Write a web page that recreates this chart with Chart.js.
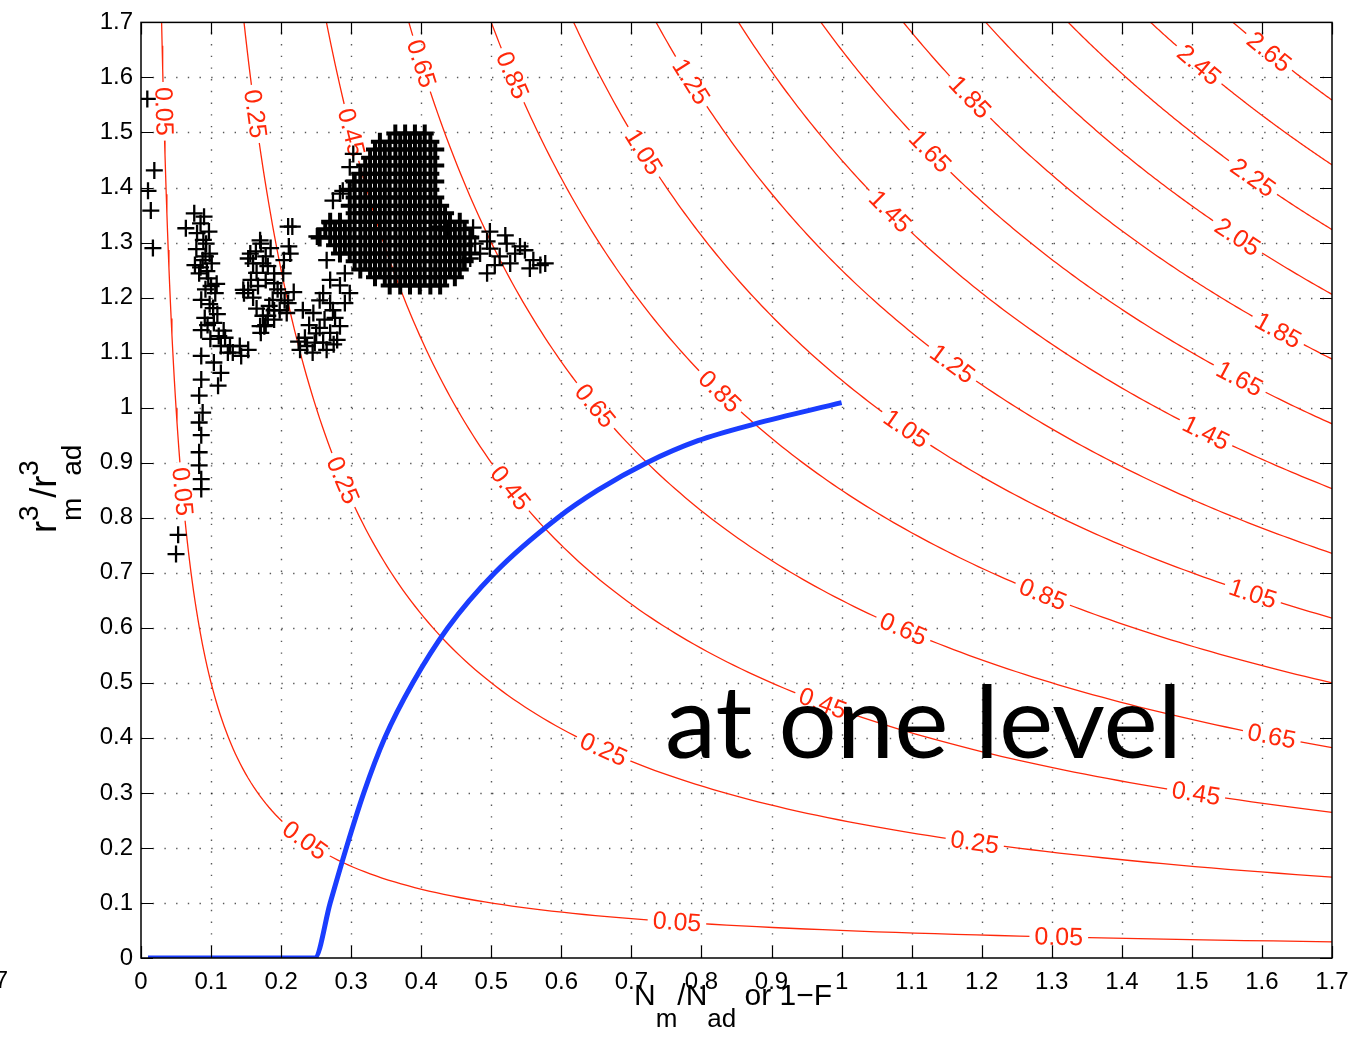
<!DOCTYPE html>
<html>
<head>
<meta charset="utf-8">
<script src="https://cdn.jsdelivr.net/npm/chart.js@4.4.0/dist/chart.umd.min.js"></script>
<style>
  html, body { margin: 0; padding: 0; background: #fff; }
</style>
</head>
<body>
<canvas id="myChart" width="1359" height="1038"></canvas>
<script>
// contour levels of the field z = x*y
const contourLevels = [0.05, 0.25, 0.45, 0.65, 0.85, 1.05, 1.25, 1.45, 1.65, 1.85, 2.05, 2.25, 2.45, 2.65];

// inline contour labels: [level, x position]
const labelSpots = [
    [0.05, 0.0325], [0.05, 0.059], [0.05, 0.234], [0.05, 0.765], [0.05, 1.31],
    [0.25, 0.163], [0.25, 0.288], [0.25, 0.66], [0.25, 1.19],
    [0.45, 0.30], [0.45, 0.527], [0.45, 0.973], [0.45, 1.506],
    [0.65, 0.40], [0.65, 0.648], [0.65, 1.088], [0.65, 1.614],
    [0.85, 0.53], [0.85, 0.826], [0.85, 1.287],
    [1.05, 0.717], [1.05, 1.092], [1.05, 1.587],
    [1.25, 0.785], [1.25, 1.158],
    [1.45, 1.069], [1.45, 1.52],
    [1.65, 1.126], [1.65, 1.568],
    [1.85, 1.183], [1.85, 1.623],
    [2.05, 1.565], [2.25, 1.587], [2.45, 1.51], [2.65, 1.61]
];

const axisTicks = [0, 0.1, 0.2, 0.3, 0.4, 0.5, 0.6, 0.7, 0.8, 0.9, 1, 1.1, 1.2, 1.3, 1.4, 1.5, 1.6, 1.7];

// blue curve
const blueX = [0.01, 0.248, 0.270, 0.293, 0.318, 0.348, 0.388, 0.438, 0.505, 0.595, 0.652, 0.722, 0.795, 0.875, 1.0];
const blueY = [0, 0, 0.1, 0.2, 0.3, 0.4, 0.5, 0.6, 0.7, 0.8, 0.85, 0.9, 0.94, 0.97, 1.009];

// "+" observations outside the dense core
const crossPoints = [
    [0.009,1.561],[0.019,1.431],[0.010,1.394],[0.014,1.358],[0.017,1.290],
    [0.076,1.353],[0.090,1.347],[0.064,1.326],[0.093,1.298],[0.080,1.317],[0.088,1.268],[0.098,1.280],
    [0.077,1.259],[0.094,1.248],[0.083,1.244],[0.100,1.221],[0.106,1.208],[0.086,1.196],[0.103,1.181],
    [0.091,1.163],[0.104,1.154],[0.086,1.141],[0.111,1.130],[0.120,1.127],[0.114,1.112],[0.124,1.100],
    [0.086,1.094],[0.104,1.082],[0.143,1.094],[0.153,1.105],[0.141,1.112],[0.131,1.100],[0.114,1.063],
    [0.110,1.040],[0.086,1.051],[0.083,1.022],[0.088,0.991],[0.083,0.973],[0.086,0.950],[0.083,0.919],
    [0.083,0.895],[0.086,0.870],[0.086,0.852],[0.053,0.769],[0.050,0.734],
    [0.085,1.335],[0.097,1.320],[0.089,1.305],[0.079,1.288],[0.092,1.275],[0.101,1.262],[0.085,1.255],
    [0.096,1.235],[0.108,1.225],[0.092,1.215],[0.098,1.188],[0.109,1.170],[0.095,1.150],[0.118,1.140],
    [0.127,1.112],[0.099,1.125],
    [0.171,1.298],[0.164,1.284],[0.153,1.271],[0.181,1.257],[0.190,1.244],[0.157,1.232],[0.153,1.214],
    [0.147,1.208],[0.167,1.221],[0.190,1.226],[0.200,1.208],[0.210,1.190],[0.181,1.167],[0.176,1.148],
    [0.171,1.136],[0.190,1.177],[0.170,1.304],[0.156,1.280],[0.174,1.262],[0.146,1.214],[0.174,1.167],
    [0.170,1.148],[0.188,1.196],[0.203,1.244],[0.213,1.280],[0.216,1.329],[0.198,1.177],[0.208,1.172],
    [0.160,1.262],[0.178,1.275],[0.185,1.290],[0.165,1.245],[0.178,1.232],[0.195,1.215],[0.160,1.200],
    [0.183,1.185],[0.165,1.180],[0.178,1.150],[0.190,1.160],[0.205,1.195],[0.218,1.210],
    [0.231,1.177],[0.237,1.112],[0.227,1.105],[0.260,1.118],[0.270,1.136],[0.274,1.177],[0.270,1.190],
    [0.240,1.150],[0.250,1.135],[0.262,1.160],[0.245,1.100],[0.265,1.105],[0.275,1.115],[0.225,1.120],
    [0.260,1.208],[0.270,1.232],[0.265,1.268],[0.251,1.311],[0.270,1.335],[0.274,1.376],[0.288,1.394],
    [0.303,1.461],[0.298,1.437],[0.303,1.412],[0.284,1.389],[0.255,1.195],[0.246,1.172],[0.284,1.148],
    [0.280,1.123],[0.210,1.329],[0.211,1.293],[0.204,1.268],
    [0.291,1.244],[0.284,1.222],[0.298,1.208],[0.291,1.190],[0.277,1.163],[0.255,1.145],[0.248,1.118],[0.234,1.127],
    [0.474,1.327],[0.494,1.302],[0.484,1.280],[0.522,1.298],[0.541,1.293],[0.560,1.268],[0.577,1.262],
    [0.494,1.244],[0.512,1.275],[0.460,1.268],[0.437,1.322],[0.427,1.329],[0.498,1.320],[0.520,1.313],
    [0.534,1.280],[0.548,1.286],[0.505,1.259],[0.477,1.298],[0.470,1.271],[0.570,1.259],[0.555,1.253],
    [0.527,1.262],[0.498,1.289]
];

// dense core of the "+" cloud, row by row
const coreRowY = [1.498, 1.483, 1.469, 1.454, 1.440, 1.425, 1.411, 1.396, 1.382, 1.367,
                  1.353, 1.338, 1.324, 1.309, 1.295, 1.280, 1.266, 1.251, 1.237, 1.222];
const coreRowX = [
    [0.363,0.377,0.391,0.405],
    [0.341,0.355,0.370,0.384,0.398,0.413],
    [0.334,0.348,0.363,0.377,0.391,0.405,0.420],
    [0.327,0.341,0.355,0.370,0.384,0.398,0.413],
    [0.320,0.334,0.348,0.363,0.377,0.391,0.405,0.420],
    [0.313,0.327,0.341,0.355,0.370,0.384,0.398,0.413],
    [0.305,0.320,0.334,0.348,0.363,0.377,0.391,0.405,0.420],
    [0.298,0.313,0.327,0.341,0.355,0.370,0.384,0.398,0.413],
    [0.305,0.320,0.334,0.348,0.363,0.377,0.391,0.405,0.420],
    [0.298,0.313,0.327,0.341,0.355,0.370,0.384,0.398,0.413,0.427],
    [0.305,0.320,0.334,0.348,0.363,0.377,0.391,0.405,0.420,0.434],
    [0.270,0.284,0.298,0.313,0.327,0.341,0.355,0.370,0.384,0.398,0.413,0.427,0.441,0.455],
    [0.263,0.277,0.291,0.305,0.320,0.334,0.348,0.363,0.377,0.391,0.405,0.420,0.434,0.448,0.462],
    [0.255,0.270,0.284,0.298,0.313,0.327,0.341,0.355,0.370,0.384,0.398,0.413,0.427,0.441,0.455,0.470],
    [0.277,0.291,0.305,0.320,0.334,0.348,0.363,0.377,0.391,0.405,0.420,0.434,0.448,0.462],
    [0.284,0.298,0.313,0.327,0.341,0.355,0.370,0.384,0.398,0.413,0.427,0.441,0.455,0.470],
    [0.305,0.320,0.334,0.348,0.363,0.377,0.391,0.405,0.420,0.434,0.448,0.462],
    [0.313,0.327,0.341,0.355,0.370,0.384,0.398,0.413,0.427,0.441,0.455],
    [0.334,0.348,0.363,0.377,0.391,0.405,0.420,0.434,0.448],
    [0.355,0.370,0.384,0.398,0.413,0.427]
];

const RED = 'rgb(255,40,10)';
const FONT = '"Liberation Sans", Arial, Helvetica, sans-serif';

document.addEventListener('DOMContentLoaded', function() {
    const canvas = document.getElementById('myChart');

    // hyperbolas x*y = level across the axes box
    function contourLine(level) {
        const pts = [];
        const x0 = level / 1.7;
        const n = 160;
        for (let i = 0; i <= n; i++) {
            const xv = x0 * Math.pow(1.7 / x0, i / n);
            pts.push({ x: xv, y: level / xv });
        }
        return pts;
    }

    const corePoints = [];
    coreRowY.forEach((yv, i) => coreRowX[i].forEach(xv => corePoints.push({ x: xv, y: yv })));

    const datasets = [
        {
            label: 'core',
            data: corePoints,
            showLine: false,
            pointStyle: 'cross',
            pointRadius: 9,
            pointHoverRadius: 9,
            borderColor: '#000',
            borderWidth: 4,
            order: 0
        },
        {
            label: 'obs',
            data: crossPoints.map(p => ({ x: p[0], y: p[1] })),
            showLine: false,
            pointStyle: 'cross',
            pointRadius: 8.5,
            pointHoverRadius: 8.5,
            borderColor: '#000',
            borderWidth: 2.3,
            order: 0
        },
        {
            label: 'blue',
            data: blueX.map((v, i) => ({ x: v, y: blueY[i] })),
            showLine: true,
            borderColor: '#1a3dff',
            borderWidth: 5,
            pointRadius: 0,
            cubicInterpolationMode: 'monotone',
            order: 1
        }
    ];
    contourLevels.forEach(c => {
        datasets.push({
            label: 'c' + c,
            data: contourLine(c),
            showLine: true,
            borderColor: RED,
            borderWidth: 1.3,
            pointRadius: 0,
            tension: 0,
            order: 2
        });
    });
    const firstContour = 3;

    function fmt(v) { return String(Math.round(v * 10) / 10); }

    function drawRich(ctx, parts, x0, y0) {
        let x = x0;
        parts.forEach(group => {
            let adv = 0;
            group.forEach(seg => {
                ctx.font = seg.size + 'px ' + FONT;
                ctx.fillText(seg.t, x, y0 + seg.dy);
                adv = Math.max(adv, ctx.measureText(seg.t).width);
            });
            x += adv;
        });
    }

    const decor = {
        id: 'decor',
        beforeDatasetsDraw(chart) {
            const { ctx, chartArea: a, scales: { x, y } } = chart;
            ctx.save();
            ctx.strokeStyle = 'rgba(0,0,0,0.65)';
            ctx.lineWidth = 1.4;
            ctx.setLineDash([1.4, 10.3]);
            axisTicks.forEach(v => {
                if (v <= 0 || v >= 1.7) return;
                const px = Math.round(x.getPixelForValue(v)) + 0.5;
                ctx.beginPath(); ctx.moveTo(px, a.bottom); ctx.lineTo(px, a.top); ctx.stroke();
                const py = Math.round(y.getPixelForValue(v)) + 0.5;
                ctx.beginPath(); ctx.moveTo(a.left, py); ctx.lineTo(a.right, py); ctx.stroke();
            });
            ctx.restore();
        },
        afterDatasetDraw(chart, args) {
            // once all contours are drawn, put the inline labels on them
            if (args.index !== firstContour) return;
            const { ctx, scales: { x, y } } = chart;
            const kx = x.getPixelForValue(1) - x.getPixelForValue(0);
            const ky = y.getPixelForValue(0) - y.getPixelForValue(1);
            ctx.save();
            ctx.font = '25px ' + FONT;
            labelSpots.forEach(([c, xv]) => {
                const yv = c / xv;
                const px = x.getPixelForValue(xv), py = y.getPixelForValue(yv);
                const ang = Math.atan2((c / (xv * xv)) * ky, kx);
                const txt = c.toFixed(2);
                const w = ctx.measureText(txt).width;
                ctx.save();
                ctx.translate(px, py);
                ctx.rotate(ang);
                ctx.fillStyle = '#fff';
                ctx.fillRect(-w / 2 - 5, -6, w + 10, 12);
                ctx.fillStyle = RED;
                ctx.textAlign = 'center';
                ctx.textBaseline = 'middle';
                ctx.fillText(txt, 0, 1);
                ctx.restore();
            });
            ctx.restore();
        },
        afterDatasetsDraw(chart) {
            const { ctx, chartArea: a, scales: { x, y } } = chart;
            ctx.save();
            // box and inward ticks
            ctx.strokeStyle = '#000';
            ctx.lineWidth = 1.5;
            ctx.strokeRect(a.left, a.top, a.right - a.left, a.bottom - a.top);
            ctx.lineWidth = 1.2;
            axisTicks.forEach(v => {
                const px = Math.round(x.getPixelForValue(v)) + 0.5;
                const py = Math.round(y.getPixelForValue(v)) + 0.5;
                ctx.beginPath();
                ctx.moveTo(px, a.bottom); ctx.lineTo(px, a.bottom - 12);
                ctx.moveTo(px, a.top); ctx.lineTo(px, a.top + 12);
                ctx.moveTo(a.left, py); ctx.lineTo(a.left + 12, py);
                ctx.moveTo(a.right, py); ctx.lineTo(a.right - 12, py);
                ctx.stroke();
            });

            // big annotation
            const txt = 'at one level';
            ctx.font = '400 100px Lato, "Open Sans", sans-serif';
            const w = ctx.measureText(txt).width;
            const left = x.getPixelForValue(0.748), right = x.getPixelForValue(1.486);
            const base = y.getPixelForValue(0.3635);
            ctx.translate(left, base);
            ctx.scale((right - left) / w, 1);
            ctx.fillStyle = '#000';
            ctx.textAlign = 'left';
            ctx.textBaseline = 'alphabetic';
            ctx.fillText(txt, 0, 0);
            ctx.restore();
        },
        afterDraw(chart) {
            const ctx = chart.ctx;
            ctx.save();
            ctx.fillStyle = '#000';
            ctx.textAlign = 'left';
            ctx.textBaseline = 'alphabetic';
            // x title: N_m/N_ad or 1-F
            drawRich(ctx, [
                [{ t: 'N', size: 30, dy: 0 }],
                [{ t: 'm', size: 26, dy: 22 }],
                [{ t: '/N', size: 30, dy: 0 }],
                [{ t: 'ad', size: 26, dy: 22 }],
                [{ t: ' or 1\u2212F', size: 30, dy: 0 }]
            ], 634, 1005);
            // y title: r^3_m/r^3_ad
            ctx.save();
            ctx.translate(56, 533);
            ctx.rotate(-Math.PI / 2);
            drawRich(ctx, [
                [{ t: 'r', size: 36, dy: 0 }],
                [{ t: '3', size: 28, dy: -18 }, { t: 'm', size: 28, dy: 25 }],
                [{ t: '/r', size: 36, dy: 0 }],
                [{ t: '3', size: 28, dy: -18 }, { t: 'ad', size: 28, dy: 25 }]
            ], 0, 0);
            ctx.restore();
            // clipped label remnant at the left edge
            ctx.font = '24px ' + FONT;
            ctx.textAlign = 'right';
            ctx.textBaseline = 'middle';
            ctx.fillText('1.7', 8, 981);
            ctx.restore();
        }
    };

    new Chart(canvas, {
        type: 'scatter',
        data: { datasets: datasets },
        options: {
            responsive: false,
            animation: false,
            events: [],
            layout: { padding: { left: 0, right: 27, top: 19, bottom: 0 } },
            plugins: { legend: { display: false }, tooltip: { enabled: false } },
            scales: {
                x: {
                    type: 'linear', min: 0, max: 1.7,
                    afterFit(s) { s.height = 80; },
                    grid: { display: false, drawTicks: false },
                    border: { display: false },
                    ticks: {
                        stepSize: 0.1, autoSkip: false, maxRotation: 0, padding: 10,
                        color: '#000', font: { family: FONT, size: 24 },
                        callback: v => fmt(v)
                    }
                },
                y: {
                    type: 'linear', min: 0, max: 1.7,
                    afterFit(s) { s.width = 141; },
                    grid: { display: false, drawTicks: false },
                    border: { display: false },
                    ticks: {
                        stepSize: 0.1, autoSkip: false, padding: 8,
                        color: '#000', font: { family: FONT, size: 24 },
                        callback: v => fmt(v)
                    }
                }
            }
        },
        plugins: [decor]
    });
});
</script>
</body>
</html>
